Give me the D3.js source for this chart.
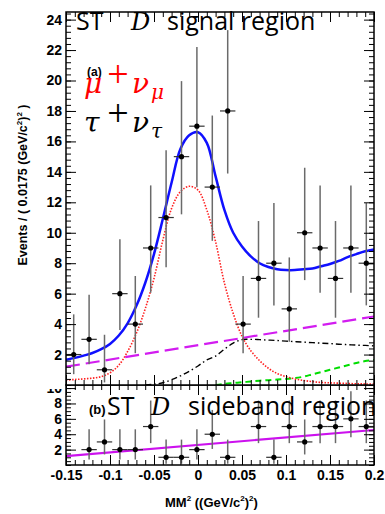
<!DOCTYPE html>
<html>
<head>
<meta charset="utf-8">
<script src="https://cdn.jsdelivr.net/npm/d3@7"></script>
<style>
body { margin: 0; background: #fff; }
svg { display: block; }
.tick text { font-family: "Liberation Sans", Arial, sans-serif; font-weight: bold; font-size: 14px; fill: #000; }
.tick line { stroke: #000; stroke-width: 1; }
</style>
</head>
<body>
<svg width="385" height="514"></svg>
<script>
// bin centres, 0.0175 wide bins from -0.15 to 0.2
const binX = [-0.14125, -0.12375, -0.10625, -0.08875, -0.07125, -0.05375, -0.03625, -0.01875, -0.00125, 0.01625,
              0.03375, 0.05125, 0.06875, 0.08625, 0.10375, 0.12125, 0.13875, 0.15625, 0.17375, 0.19125];
const binHalf = 0.00875;

// (a) signal region
const topCounts = [2, 3, 1, 6, 4, 9, 11, 15, 17, 13, 18, 4, 7, 8, 5, 10, 9, 7, 9, 8];
const topLo = [0.71, 1.37, 0.17, 3.62, 2.09, 6.06, 7.74, 11.21, 12.99, 9.47, 13.89, 2.09, 4.42, 5.23, 2.84, 6.89, 6.06, 4.42, 6.06, 5.23];
const topHi = [4.64, 5.92, 3.30, 9.58, 7.16, 13.11, 15.42, 19.96, 22.2, 17.70, 23.31, 7.16, 10.77, 11.95, 8.38, 14.27, 13.11, 10.77, 13.11, 11.95];

// (b) sideband region
const lowCounts = [0, 2, 3, 2, 2, 5, 1, 1, 2, 4, 1, 0, 5, 1, 5, 3, 5, 5, 6, 5];
const lowLo = [0, 0.71, 1.37, 0.71, 0.71, 2.84, 0.17, 0.17, 0.71, 2.09, 0.17, 0, 2.84, 0.17, 2.84, 1.37, 2.84, 2.84, 3.62, 2.84];
const lowHi = [0, 4.64, 5.92, 4.64, 4.64, 8.38, 3.30, 3.30, 4.64, 7.16, 3.30, 0, 8.38, 3.30, 8.38, 5.92, 8.38, 8.38, 9.58, 8.38];

const curveX = [-0.15, -0.14, -0.13, -0.12, -0.11, -0.10, -0.09, -0.08, -0.07, -0.06, -0.05, -0.04, -0.03, -0.02, -0.01, 0,
                0.01, 0.02, 0.03, 0.04, 0.05, 0.06, 0.07, 0.08, 0.09, 0.10, 0.11, 0.12, 0.13, 0.14, 0.15, 0.16, 0.17, 0.18, 0.19, 0.20];
const totalFit = [1.65, 1.78, 1.93, 2.1, 2.35, 2.7, 3.25, 4.05, 5.2, 6.7, 8.6, 10.9, 13.3, 15.5, 16.4, 16.6,
                  15.9, 13.7, 11.5, 10.0, 9.1, 8.45, 8.0, 7.75, 7.6, 7.55, 7.55, 7.6, 7.65, 7.8, 7.95, 8.15, 8.4, 8.6, 8.78, 8.9];
const muNu = [0.33, 0.36, 0.40, 0.45, 0.55, 0.8, 1.3, 2.2, 3.4, 5.0, 7.0, 9.5, 11.6, 12.7, 13.05, 12.8,
              11.5, 9.4, 6.7, 4.7, 3.2, 2.25, 1.6, 1.1, 0.75, 0.55, 0.4, 0.3, 0.22, 0.17, 0.14, 0.12, 0.1, 0.08, 0.07, 0.06];
const tauNu = [null, null, null, null, null, null, null, null, null, 0.0, 0.05, 0.15, 0.35, 0.6, 0.9, 1.25,
               1.65, 1.9, 2.35, 2.75, 2.98, 3.0, 2.98, 2.95, 2.92, 2.88, 2.85, 2.82, 2.78, 2.75, 2.72, 2.68, 2.65, 2.62, 2.6, 2.57];
const peakBkg = [null, null, null, null, null, null, null, null, null, null, null, null, null, null, null, null,
                 null, 0.0, 0.08, 0.13, 0.18, 0.23, 0.28, 0.32, 0.36, 0.40, 0.45, 0.55, 0.7, 0.85, 1.0, 1.15, 1.3, 1.45, 1.57, 1.65];
const lineX = [-0.15, 0.2];
const flatTop = [1.2, 4.5];
const flatLow = [1.15, 4.55];

const xTicks = [-0.15, -0.1, -0.05, 0, 0.05, 0.1, 0.15, 0.2];
const xTickLabels = ["-0.15", "-0.1", "-0.05", "0", "0.05", "0.1", "0.15", "0.2"];
const yTopTicks = [2, 4, 6, 8, 10, 12, 14, 16, 18, 20, 22, 24];
const yLowTicks = [2, 4, 6, 8, 10];

const L = 66, R = 374, T = 12, MID = 385, B = 465;
const svg = d3.select("svg");

const x = d3.scaleLinear().domain([-0.15, 0.2]).range([L, R]);
const yTop = d3.scaleLinear().domain([0, 24.5]).range([MID, T]);
const yLow = d3.scaleLinear().domain([0, 10.4]).range([B, MID]);

const defs = svg.append("defs");
defs.append("clipPath").attr("id", "clipTop").append("rect")
    .attr("x", L).attr("y", T).attr("width", R - L).attr("height", MID - T);
defs.append("clipPath").attr("id", "clipLow").append("rect")
    .attr("x", L).attr("y", MID).attr("width", R - L).attr("height", B - MID);

function drawAxes(g, y, major, minorStep, labels) {
    const y1 = y.domain()[1];
    const minor = d3.range(0, y1 + 1e-9, minorStep);
    const xMinor = d3.range(-0.15, 0.2001, 0.01);
    const noDomain = s => s.select(".domain").remove();

    g.append("g").attr("transform", `translate(${L},0)`)
        .call(d3.axisLeft(y).tickValues(minor).tickSize(-5).tickFormat("")).call(noDomain);
    g.append("g").attr("transform", `translate(${L},0)`)
        .call(d3.axisLeft(y).tickValues(major).tickSize(-10).tickPadding(4)).call(noDomain);
    g.append("g").attr("transform", `translate(${R},0)`)
        .call(d3.axisRight(y).tickValues(minor).tickSize(-5).tickFormat("")).call(noDomain);
    g.append("g").attr("transform", `translate(${R},0)`)
        .call(d3.axisRight(y).tickValues(major).tickSize(-10).tickFormat("")).call(noDomain);

    const yb = y.range()[0], yt = y.range()[1];
    g.append("g").attr("transform", `translate(0,${yt})`)
        .call(d3.axisTop(x).tickValues(xMinor).tickSize(-5).tickFormat("")).call(noDomain);
    g.append("g").attr("transform", `translate(0,${yt})`)
        .call(d3.axisTop(x).tickValues(xTicks).tickSize(-10).tickFormat("")).call(noDomain);
    g.append("g").attr("transform", `translate(0,${yb})`)
        .call(d3.axisBottom(x).tickValues(xMinor).tickSize(-5).tickFormat("")).call(noDomain);
    g.append("g").attr("transform", `translate(0,${yb})`)
        .call(d3.axisBottom(x).tickValues(xTicks).tickSize(-10).tickPadding(5)
            .tickFormat((d, i) => labels ? xTickLabels[i] : ""))
        .call(noDomain);

    g.append("rect").attr("x", L).attr("y", yt).attr("width", R - L).attr("height", yb - yt)
        .attr("fill", "none").attr("stroke", "#000").attr("stroke-width", 1.5);
}

function drawPoints(g, y, counts, lo, hi) {
    const pts = binX.map((bx, i) => ({ x: bx, n: counts[i], lo: lo[i], hi: hi[i] })).filter(d => d.n > 0);
    const e = g.selectAll(".pt").data(pts).enter().append("g").attr("class", "pt");
    e.append("line")
        .attr("x1", d => x(d.x)).attr("x2", d => x(d.x))
        .attr("y1", d => y(d.hi)).attr("y2", d => y(d.lo))
        .attr("stroke", "#6a6a6a").attr("stroke-width", 1.5);
    e.append("line")
        .attr("x1", d => x(d.x - binHalf)).attr("x2", d => x(d.x + binHalf))
        .attr("y1", d => y(d.n)).attr("y2", d => y(d.n))
        .attr("stroke", "#333").attr("stroke-width", 1.2);
    e.append("circle")
        .attr("cx", d => x(d.x)).attr("cy", d => y(d.n)).attr("r", 2.6)
        .attr("fill", "#000");
}

function curve(g, y, ys, xs, color, width, dash) {
    const pts = xs.map((v, i) => [v, ys[i]]);
    const line = d3.line()
        .defined(d => d[1] !== null)
        .x(d => x(d[0])).y(d => y(d[1]))
        .curve(d3.curveCatmullRom);
    g.append("path").attr("d", line(pts))
        .attr("fill", "none").attr("stroke", color).attr("stroke-width", width)
        .attr("stroke-dasharray", dash || null);
}

// ---- lower panel (b) ----
const gLow = svg.append("g");
const lowPlot = gLow.append("g").attr("clip-path", "url(#clipLow)");
curve(lowPlot, yLow, flatLow, lineX, "#cc11ee", 2.2);
drawPoints(gLow, yLow, lowCounts, lowLo, lowHi);
drawAxes(gLow, yLow, yLowTicks, 0.5, true);

gLow.append("text").attr("x", 89).attr("y", 414)
    .attr("font-family", "Liberation Sans, Arial, sans-serif").attr("font-weight", "bold").attr("font-size", 13)
    .text("(b)");
gLow.append("text").attr("x", 107).attr("y", 415)
    .attr("font-family", "Open Sans, sans-serif").attr("font-size", 25).text("ST");
gLow.append("text").attr("x", 151).attr("y", 415)
    .attr("font-family", "DejaVu Serif, serif").attr("font-style", "italic").attr("font-size", 24).text("D");
gLow.append("text").attr("x", 188).attr("y", 415)
    .attr("font-family", "Open Sans, sans-serif").attr("font-size", 25).text("sideband region");

// ---- upper pad covers the lower one (left margin hides top of the "10") ----
svg.append("rect").attr("x", 0).attr("y", 0).attr("width", L - 1).attr("height", MID + 4).attr("fill", "#fff");
svg.append("rect").attr("x", L).attr("y", 0).attr("width", 385 - L).attr("height", MID).attr("fill", "#fff");

// ---- upper panel (a) ----
const gTop = svg.append("g");
const topPlot = gTop.append("g").attr("clip-path", "url(#clipTop)");
curve(topPlot, yTop, flatTop, lineX, "#d21cf0", 2.2, "14,6");
curve(topPlot, yTop, peakBkg, curveX, "#00dd00", 2, "6,4");
curve(topPlot, yTop, tauNu, curveX, "#000", 1.4, "6,3,1.5,3");
curve(topPlot, yTop, muNu, curveX, "#ff2020", 1.6, "1.5,1.5");
drawPoints(gTop, yTop, topCounts, topLo, topHi);
curve(topPlot, yTop, totalFit, curveX, "#1010ff", 2.5);
drawAxes(gTop, yTop, yTopTicks, 0.4, false);

gTop.append("text").attr("x", 76).attr("y", 30)
    .attr("font-family", "Open Sans, sans-serif").attr("font-size", 25).text("ST");
gTop.append("text").attr("x", 131).attr("y", 30)
    .attr("font-family", "DejaVu Serif, serif").attr("font-style", "italic").attr("font-size", 24).text("D");
gTop.append("text").attr("x", 167).attr("y", 30)
    .attr("font-family", "Open Sans, sans-serif").attr("font-size", 25).text("signal region");

const serif = "DejaVu Serif, serif";
function decay(yb, color, main, sub, tag) {
    const t = gTop.append("text").attr("fill", color);
    if (tag) {
        t.append("tspan").attr("x", 87).attr("y", yb - 17).attr("fill", "#000")
            .attr("font-family", "Liberation Sans, Arial, sans-serif").attr("font-weight", "bold").attr("font-size", 12)
            .text(tag);
    }
    t.append("tspan").attr("x", 84).attr("y", yb)
        .attr("font-family", serif).attr("font-style", "italic").attr("font-size", 28).text(main);
    gTop.append("text").attr("x", 118).attr("y", yb - 6).attr("fill", color).attr("text-anchor", "middle")
        .attr("font-family", "Liberation Serif, serif").attr("font-size", 38).text("+");
    gTop.append("text").attr("x", 132).attr("y", yb).attr("fill", color)
        .attr("font-family", serif).attr("font-style", "italic").attr("font-size", 28).text("\u03BD");
    gTop.append("text").attr("x", 151).attr("y", yb + 6).attr("fill", color)
        .attr("font-family", serif).attr("font-style", "italic").attr("font-size", 20).text(sub);
}
decay(93, "#ff0000", "\u03BC", "\u03BC", "(a)");
decay(132, "#000", "\u03C4", "\u03C4");

// axis titles
const yTitle = svg.append("text")
    .attr("transform", "translate(27,185) rotate(-90)")
    .attr("text-anchor", "middle")
    .attr("font-family", "Liberation Sans, Arial, sans-serif").attr("font-weight", "bold").attr("font-size", 12.5);
yTitle.append("tspan").text("Events / ( 0.0175 (GeV/c");
yTitle.append("tspan").attr("font-size", 8).attr("dy", -5).text("2");
yTitle.append("tspan").attr("dy", 5).text(")");
yTitle.append("tspan").attr("font-size", 8).attr("dy", -5).text("2");
yTitle.append("tspan").attr("dy", 5).text(" )");

const xTitle = svg.append("text")
    .attr("x", 165).attr("y", 507)
    .attr("font-family", "Liberation Sans, Arial, sans-serif").attr("font-weight", "bold").attr("font-size", 13);
xTitle.append("tspan").text("MM");
xTitle.append("tspan").attr("font-size", 8).attr("dy", -6).text("2");
xTitle.append("tspan").attr("dy", 6).text(" ((GeV/c");
xTitle.append("tspan").attr("font-size", 8).attr("dy", -6).text("2");
xTitle.append("tspan").attr("dy", 6).text(")");
xTitle.append("tspan").attr("font-size", 8).attr("dy", -6).text("2");
xTitle.append("tspan").attr("dy", 6).text(")");
</script>
</body>
</html>
